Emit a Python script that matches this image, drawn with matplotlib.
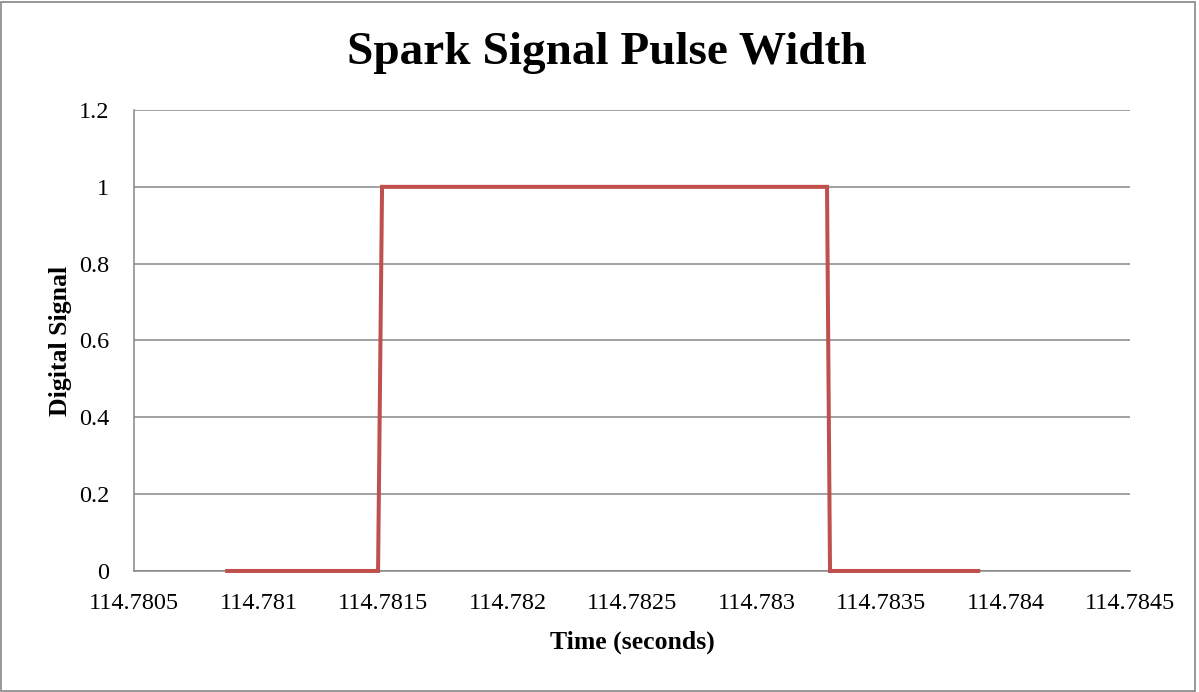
import matplotlib
matplotlib.use("Agg")
import matplotlib.pyplot as plt
from matplotlib.patches import Rectangle

# Data
time_s = [114.780874, 114.781480, 114.781496, 114.783283, 114.783295, 114.783890]
signal = [0, 0, 1, 1, 0, 0]

x_ticks = [114.7805, 114.781, 114.7815, 114.782, 114.7825, 114.783, 114.7835, 114.784, 114.7845]
x_tick_labels = ["114.7805", "114.781", "114.7815", "114.782", "114.7825", "114.783", "114.7835", "114.784", "114.7845"]
y_ticks = [0, 0.2, 0.4, 0.6, 0.8, 1.0, 1.2]
y_tick_labels = ["0", "0.2", "0.4", "0.6", "0.8", "1", "1.2"]

plt.rcParams['font.family'] = ['Liberation Serif', 'DejaVu Serif']

fig = plt.figure(figsize=(11.99, 6.92), dpi=100)
ax = fig.add_axes([0.1118, 0.1749, 0.9425 - 0.1118, 0.841 - 0.1749])

ax.plot(time_s, signal, color="#C0504D", lw=2.9, solid_joinstyle="miter", zorder=3, clip_on=False)

ax.set_xlim(x_ticks[0], x_ticks[-1])
ax.set_ylim(0, 1.2)
ax.set_xticks(x_ticks)
ax.set_xticklabels(x_tick_labels, fontsize=17.5)
ax.set_yticks(y_ticks)
ax.set_yticklabels(y_tick_labels, fontsize=17.5)
ax.tick_params(axis="both", length=0)
ax.tick_params(axis="x", pad=16)
ax.tick_params(axis="y", pad=18)

ax.grid(axis="y", color="#868686", lw=1.1)
ax.set_axisbelow(True)
for s in ["top", "right"]:
    ax.spines[s].set_visible(False)
for s in ["left", "bottom"]:
    ax.spines[s].set_color("#868686")
    ax.spines[s].set_linewidth(1.1)

ax.set_xlabel("Time (seconds)", fontsize=18.5, fontweight="bold", labelpad=12)
ax.set_ylabel("Digital Signal", fontsize=18.5, fontweight="bold", labelpad=5)

fig.text(0.506, 0.923, "Spark Signal Pulse Width", ha="center", va="center",
         fontsize=34, fontweight="bold")

fig.patches.append(Rectangle((0.001, 0.001), 0.996, 0.996, transform=fig.transFigure,
                             fill=False, edgecolor="#868686", lw=1.2))

fig.savefig("out.png", dpi=100)
